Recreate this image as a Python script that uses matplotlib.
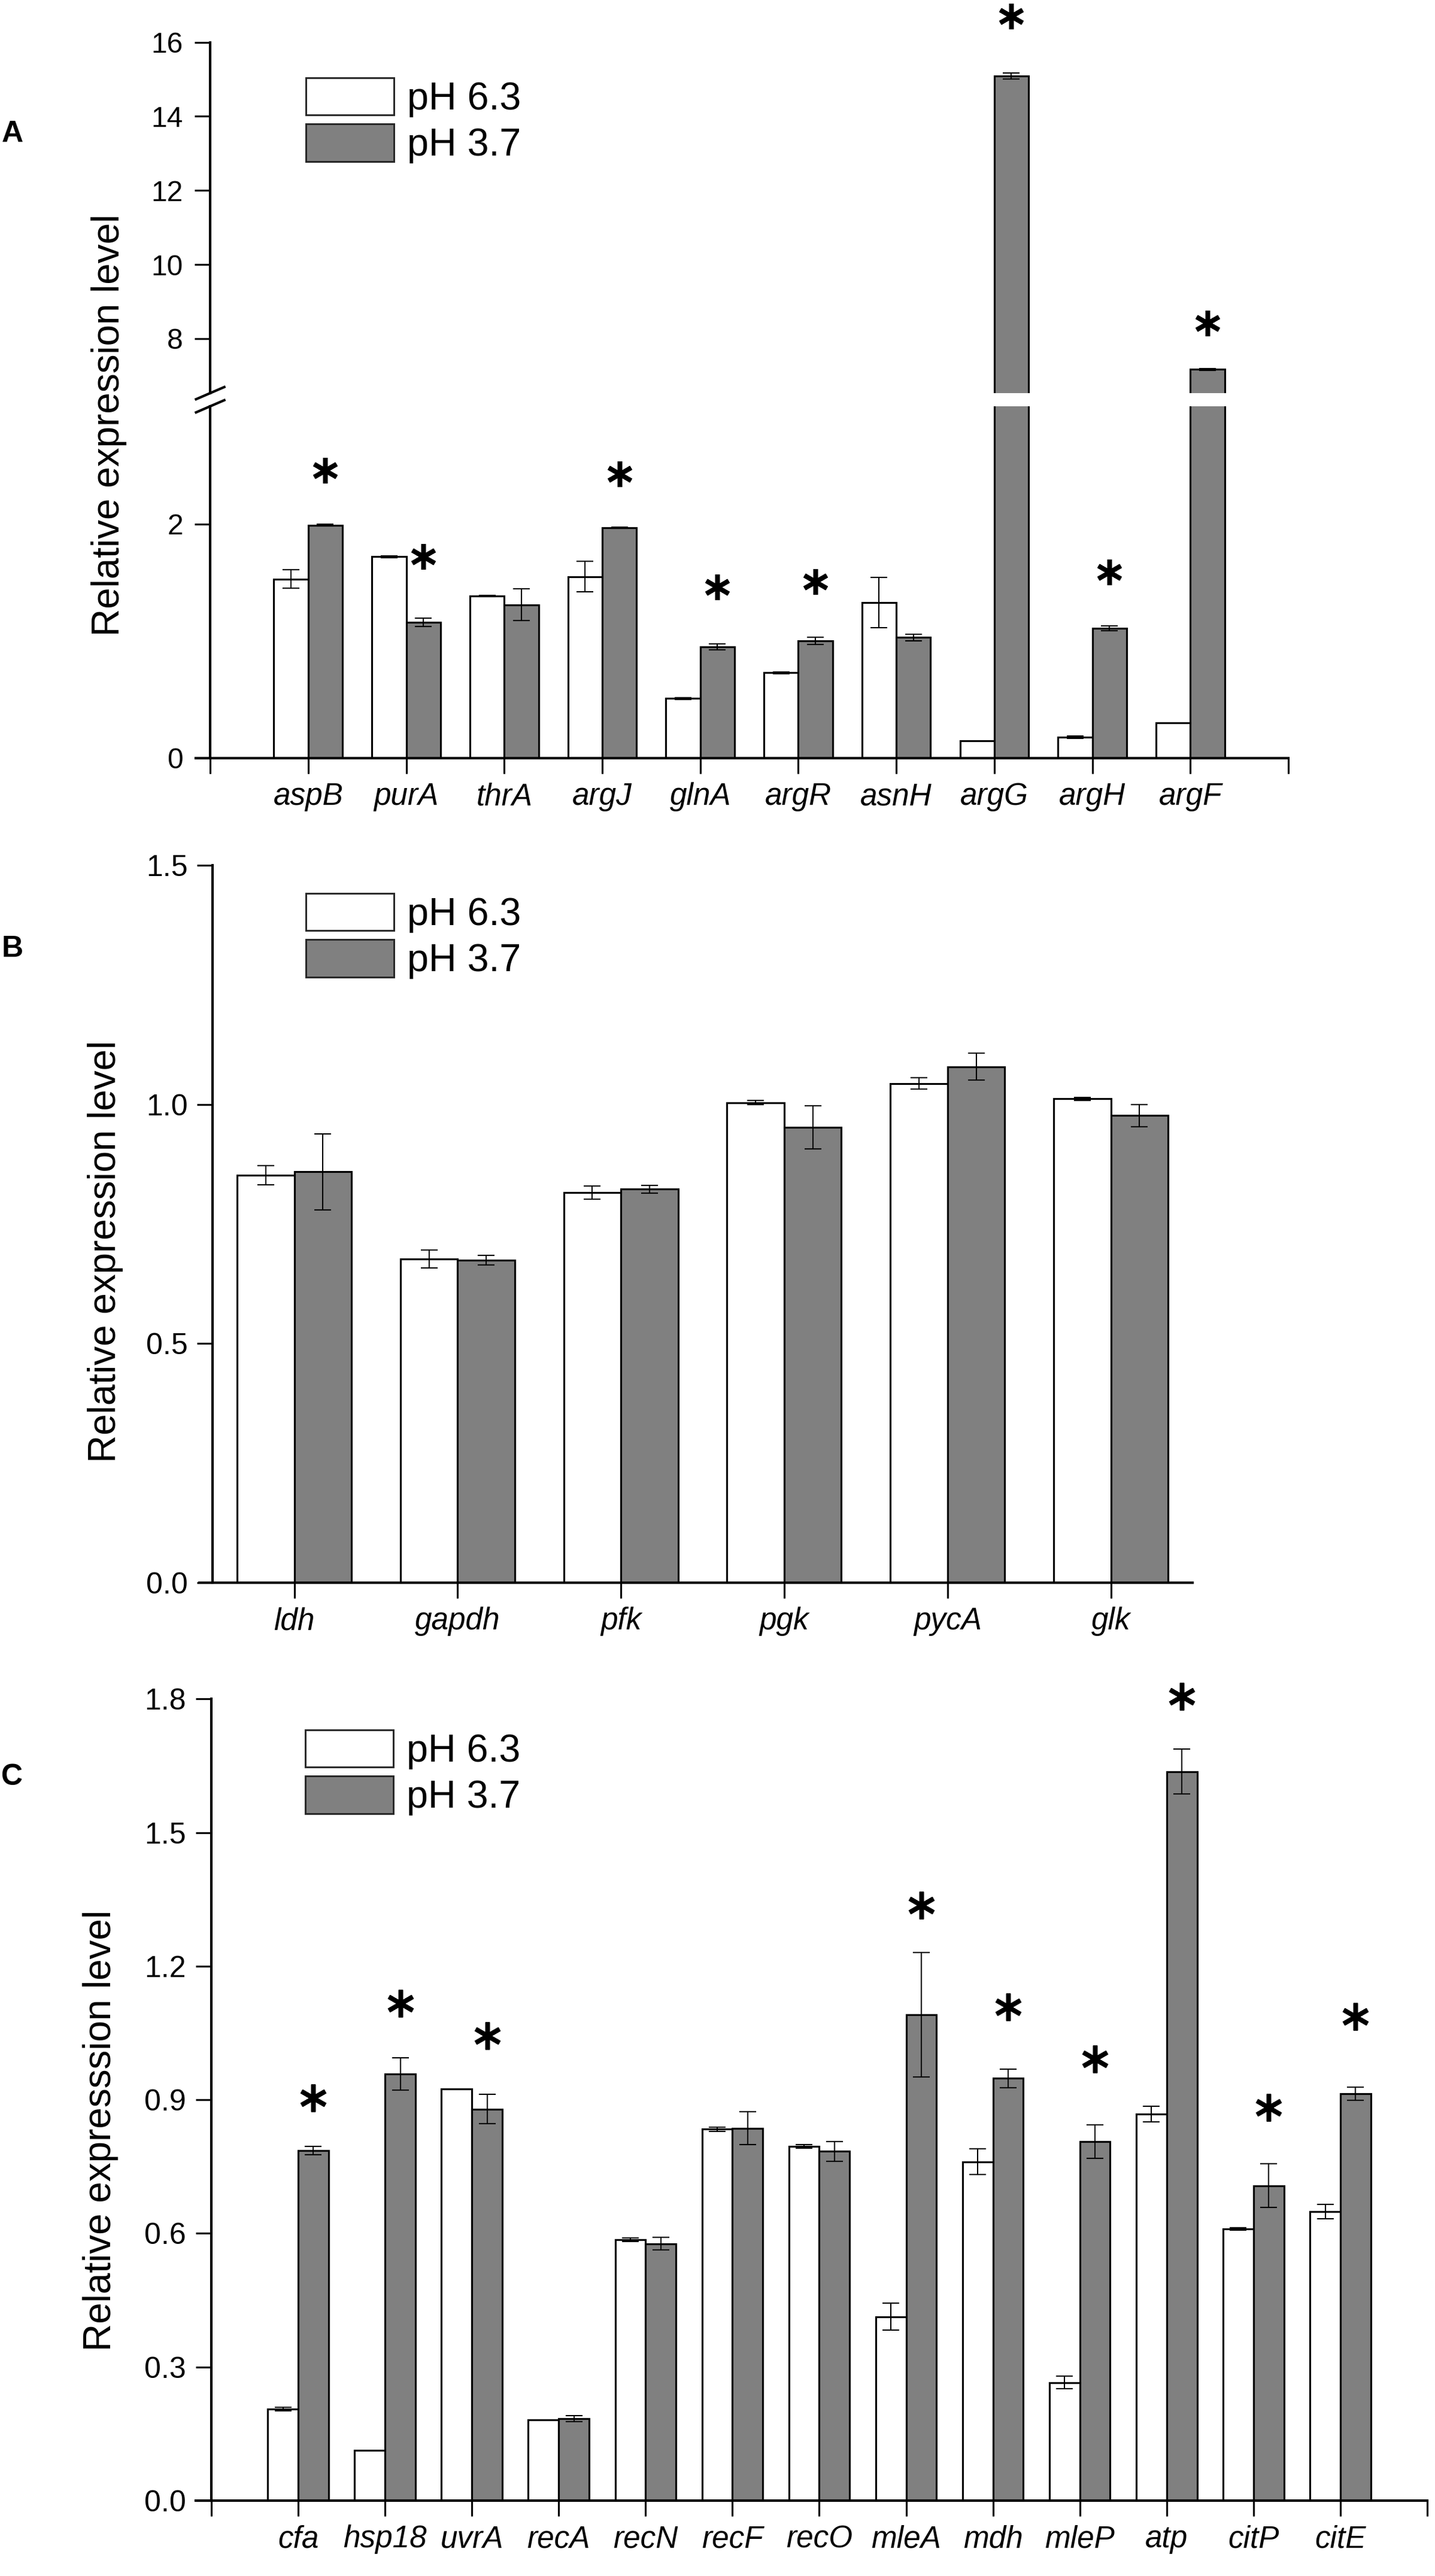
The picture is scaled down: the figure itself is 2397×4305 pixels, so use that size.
import numpy as np
import matplotlib
matplotlib.use("Agg")
import matplotlib.pyplot as plt
from matplotlib.patches import Patch

plt.rcParams['font.family'] = ['Liberation Sans', 'DejaVu Sans']

# ---------------- data ----------------
genes_A = ['aspB', 'purA', 'thrA', 'argJ', 'glnA', 'argR', 'asnH', 'argG', 'argH', 'argF']
A_ph63 = [1.53, 1.72, 1.385, 1.55, 0.51, 0.73, 1.33, 0.15, 0.18, 0.30]
A_ph63_err = [0.08, 0.008, 0.005, 0.13, 0.008, 0.008, 0.215, 0.0, 0.01, 0.0]
A_ph37 = [1.99, 1.16, 1.31, 1.97, 0.95, 1.00, 1.03, 15.09, 1.11, 7.17]
A_ph37_err = [0.008, 0.035, 0.136, 0.005, 0.026, 0.03, 0.03, 0.075, 0.02, 0.02]
A_star_y = [2.46, 1.72, None, 2.43, 1.46, 1.51, None, 16.71, 1.59, 8.42]

genes_B = ['ldh', 'gapdh', 'pfk', 'pgk', 'pycA', 'glk']
B_ph63 = [0.852, 0.677, 0.816, 1.004, 1.044, 1.012]
B_ph63_err = [0.02, 0.019, 0.014, 0.004, 0.012, 0.003]
B_ph37 = [0.859, 0.674, 0.823, 0.952, 1.079, 0.977]
B_ph37_err = [0.079, 0.01, 0.008, 0.045, 0.028, 0.023]

genes_C = ['cfa', 'hsp18', 'uvrA', 'recA', 'recN', 'recF', 'recO', 'mleA', 'mdh',
           'mleP', 'atp', 'citP', 'citE']
C_ph63 = [0.205, 0.113, 0.924, 0.181, 0.586, 0.834, 0.796, 0.413, 0.761, 0.265, 0.868, 0.610, 0.649]
C_ph63_err = [0.004, 0.0, 0.0, 0.0, 0.004, 0.005, 0.004, 0.03, 0.029, 0.014, 0.018, 0.003, 0.016]
C_ph37 = [0.786, 0.958, 0.879, 0.184, 0.577, 0.836, 0.784, 1.091, 0.948, 0.806, 1.637, 0.707, 0.914]
C_ph37_err = [0.009, 0.036, 0.033, 0.007, 0.014, 0.037, 0.022, 0.14, 0.021, 0.038, 0.05, 0.049, 0.015]
C_star_y = [0.904, 1.117, 1.044, None, None, None, None, 1.337, 1.109, 0.991, 1.806, 0.883, 1.087]

legend_labels = ['pH 6.3', 'pH 3.7']
ylabel_AB = 'Relative expression level'
ylabel_C = 'Relative expresssion level'

# ---------------- style ----------------
W, H = 2397, 4305
DPI = 300
GRAY = '#808080'
BW = 0.35
SPINE_LW = 1.0
BAR_LW = 0.75
ERR_LW = 0.5
CAP = 3.4
TICK_LEN = 6.3
TICK_W = 0.75

fig = plt.figure(figsize=(W / DPI, H / DPI), dpi=DPI)


def rect(left, right, top, bottom):
    return [left / W, 1 - bottom / H, (right - left) / W, (bottom - top) / H]


def style_axes(ax, ytick_size, ypad):
    for s in ['top', 'right']:
        ax.spines[s].set_visible(False)
    for s in ['left', 'bottom']:
        ax.spines[s].set_linewidth(SPINE_LW)
    ax.spines['left'].set_position(('data', 0))
    ax.tick_params(axis='both', direction='out', length=TICK_LEN, width=TICK_W,
                   color='black')
    ax.tick_params(axis='y', labelsize=ytick_size, pad=ypad)
    ax.tick_params(axis='x', labelsize=12.3, pad=3.4)


def draw_bars(ax, x, v1, e1, v2, e2):
    x = np.asarray(x, dtype=float)
    ax.bar(x - BW / 2, v1, BW, color='white', edgecolor='black', linewidth=BAR_LW, zorder=2)
    ax.bar(x + BW / 2, v2, BW, color=GRAY, edgecolor='black', linewidth=BAR_LW, zorder=2)
    for xs, vals, errs in [(x - BW / 2, v1, e1), (x + BW / 2, v2, e2)]:
        vals = np.asarray(vals, float)
        errs = np.asarray(errs, float)
        m = errs > 0
        ax.errorbar(xs[m], vals[m], yerr=errs[m], fmt='none', ecolor='black',
                    elinewidth=ERR_LW, capsize=CAP, capthick=ERR_LW, zorder=3)


def draw_stars(ax, x, ys, ms, ylim):
    for xi, yi in zip(x, ys):
        if yi is None:
            continue
        if ylim is not None and not (ylim[0] <= yi <= ylim[1] + 1.5):
            continue
        ax.plot([xi + BW / 2], [yi], ls='none', marker=(6, 2, 0), ms=ms, mew=1.8,
                color='black', clip_on=False, zorder=4)


def add_legend(ax, top_left_px):
    handles = [Patch(facecolor='white', edgecolor='#262626', linewidth=0.7),
               Patch(facecolor=GRAY, edgecolor='#262626', linewidth=0.7)]
    fs = 15.5
    ax.legend(handles, legend_labels, loc='upper left',
              bbox_to_anchor=(top_left_px[0] / W, 1 - top_left_px[1] / H),
              bbox_transform=fig.transFigure, frameon=False, fontsize=fs,
              borderpad=0, borderaxespad=0, handlelength=2.28, handleheight=1.11,
              handletextpad=0.33, labelspacing=0.17)


# ---------------- Panel A (broken axis) ----------------
xa = np.arange(1, len(genes_A) + 1)
A_xlim = (-0.147, 11)
A_low_ylim = (0, 3.005)
A_up_ylim = (6.53, 16)

axA_lo = fig.add_axes(rect(327, 2152, 679, 1267))
axA_up = fig.add_axes(rect(327, 2152, 70.6, 657))
for ax in (axA_lo, axA_up):
    draw_bars(ax, xa, A_ph63, A_ph63_err, A_ph37, A_ph37_err)
    ax.set_xlim(*A_xlim)
    style_axes(ax, 11.5, 4.6)

axA_lo.set_ylim(*A_low_ylim)
axA_up.set_ylim(*A_up_ylim)
axA_lo.set_yticks([0, 2])
axA_lo.set_yticklabels(['0', '2'])
axA_up.set_yticks([8, 10, 12, 14, 16])
axA_up.set_yticklabels(['8', '10', '12', '14', '16'])
axA_lo.set_xticks(np.arange(0, len(genes_A) + 2))
axA_lo.set_xticklabels([''] + genes_A + [''], style='italic')
axA_up.spines['bottom'].set_visible(False)
axA_up.tick_params(axis='x', which='both', bottom=False, labelbottom=False)

star_lo = [y if (y is not None and y < 3.5) else None for y in A_star_y]
star_up = [y if (y is not None and y >= 3.5) else None for y in A_star_y]
draw_stars(axA_lo, xa, star_lo, 10.3, None)
draw_stars(axA_up, xa, star_up, 10.3, None)
add_legend(axA_up, (511, 130))

# break marks on the y axis
def break_marks(ax, yfrac_edge, h_px):
    pos = ax.get_position()
    wpx = pos.width * W
    x0 = (0 - A_xlim[0]) / (A_xlim[1] - A_xlim[0])
    dx = 25.5 / wpx
    dy = 11.0 / h_px
    ax.plot([x0 - dx, x0 + dx], [yfrac_edge - dy, yfrac_edge + dy], color='black',
            lw=1.0, transform=ax.transAxes, clip_on=False, solid_capstyle='butt', zorder=5)

break_marks(axA_up, 0.0, 657 - 70.6)
break_marks(axA_lo, 1.0, 1267 - 679)

# ---------------- Panel B ----------------
xb = np.arange(1, len(genes_B) + 1)
axB = fig.add_axes(rect(333, 1992, 1446.4, 2644.6))
draw_bars(axB, xb, B_ph63, B_ph63_err, B_ph37, B_ph37_err)
axB.set_xlim(0.419, 6.5)
axB.set_ylim(0, 1.5)
style_axes(axB, 12, 3.6)
axB.spines['left'].set_position(('data', 0.5))
axB.set_yticks([0.0, 0.5, 1.0, 1.5])
axB.set_yticklabels(['0.0', '0.5', '1.0', '1.5'])
axB.set_xticks(xb)
axB.set_xticklabels(genes_B, style='italic')
add_legend(axB, (511, 1493))

# ---------------- Panel C ----------------
xc = np.arange(1, len(genes_C) + 1)
axC = fig.add_axes(rect(327, 2384, 2839.3, 4179))
draw_bars(axC, xc, C_ph63, C_ph63_err, C_ph37, C_ph37_err)
axC.set_xlim(-0.179, 14)
axC.set_ylim(0, 1.8)
style_axes(axC, 12, 3.8)
yt = [0.0, 0.3, 0.6, 0.9, 1.2, 1.5, 1.8]
axC.set_yticks(yt)
axC.set_yticklabels([f'{v:.1f}' for v in yt])
axC.set_xticks(np.arange(0, len(genes_C) + 2))
axC.set_xticklabels([''] + genes_C + [''], style='italic')
draw_stars(axC, xc, C_star_y, 11.0, None)
add_legend(axC, (510, 2891))

# ---------------- labels ----------------
fig.text(182 / W, 1 - 710 / H, ylabel_AB, rotation=90, ha='center', va='center', fontsize=15.3)
fig.text(176 / W, 1 - 2091 / H, ylabel_AB, rotation=90, ha='center', va='center', fontsize=15.3)
fig.text(168 / W, 1 - 3560 / H, ylabel_C, rotation=90, ha='center', va='center', fontsize=15.3)

for lab, (px, py) in zip(['A', 'B', 'C'], [(21, 224), (21, 1586), (20, 2970)]):
    fig.text(px / W, 1 - py / H, lab, ha='center', va='center', fontsize=12, fontweight='bold')

fig.savefig('out.png', dpi=DPI, facecolor='white')
